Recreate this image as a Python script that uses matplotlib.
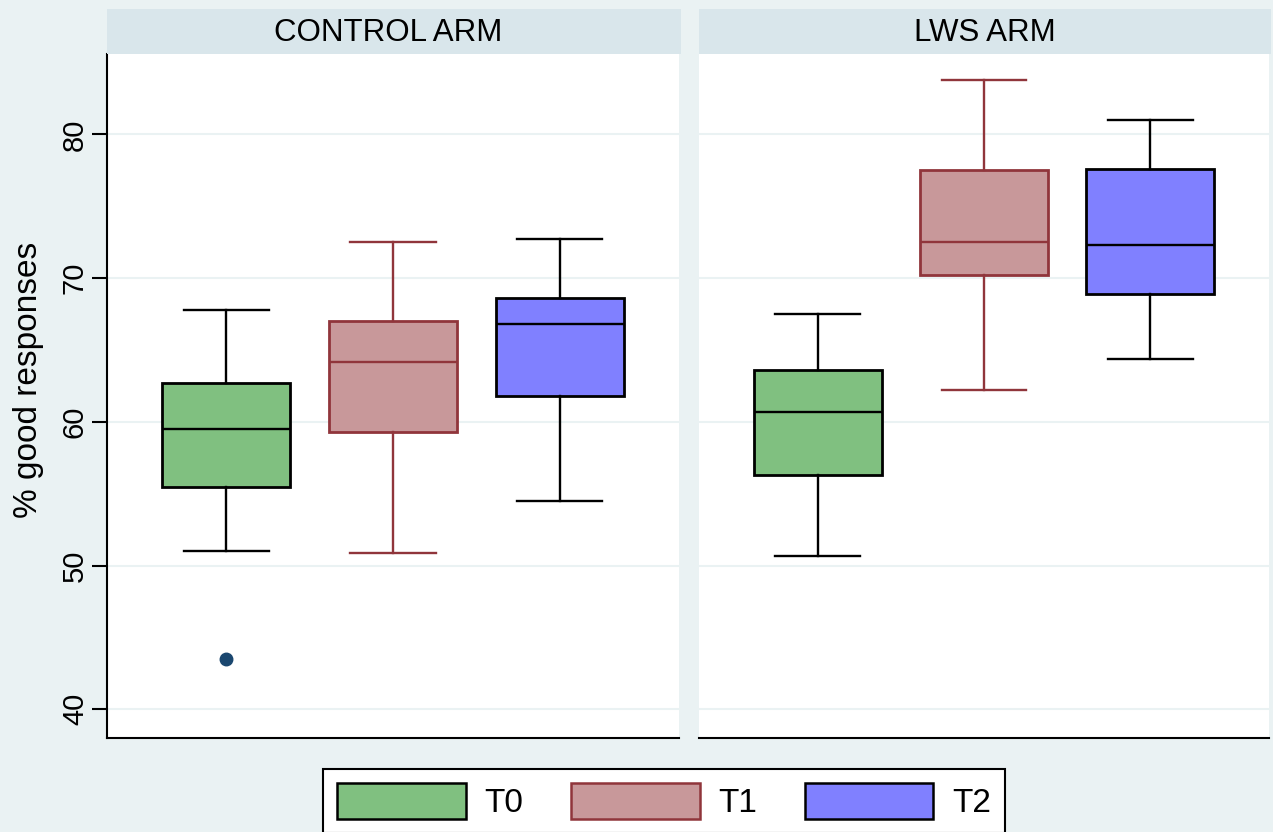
import matplotlib.pyplot as plt
from matplotlib.patches import Patch

plt.rcParams['font.family'] = ['Liberation Sans', 'DejaVu Sans']

panels = ["CONTROL ARM", "LWS ARM"]
groups = ["T0", "T1", "T2"]

# box stats, one row per panel
whislo = [[51.0, 50.9, 54.5], [50.7, 62.2, 64.4]]
q1 = [[55.5, 59.3, 61.8], [56.3, 70.2, 68.9]]
med = [[59.5, 64.2, 66.8], [60.7, 72.5, 72.3]]
q3 = [[62.7, 67.0, 68.6], [63.6, 77.5, 77.6]]
whishi = [[67.8, 72.5, 72.7], [67.5, 83.8, 81.0]]
outliers = [[[43.5], [], []], [[], [], []]]

fills = ["#80C080", "#C8989A", "#8080FF"]
edges = ["black", "#90353B", "black"]
bg = "#EAF2F3"
strip = "#D9E6EB"
grid = "#EAF2F3"

W, H = 1273, 832
fig = plt.figure(figsize=(W / 100, H / 100), dpi=100, facecolor=bg)

boxes = [(107, 679), (699, 1269)]
top, bottom = 54, 738

for p, (x0, x1) in enumerate(boxes):
    ax = fig.add_axes([x0 / W, 1 - bottom / H, (x1 - x0) / W, (bottom - top) / H])
    ax.set_facecolor("white")
    for i in range(3):
        st = dict(whislo=whislo[p][i], q1=q1[p][i], med=med[p][i], q3=q3[p][i],
                  whishi=whishi[p][i], fliers=outliers[p][i])
        ax.bxp([st], positions=[i + 1], widths=0.77, capwidths=0.51, patch_artist=True,
               boxprops=dict(facecolor=fills[i], edgecolor=edges[i], linewidth=2.0),
               whiskerprops=dict(color=edges[i], linewidth=1.7),
               capprops=dict(color=edges[i], linewidth=1.7),
               medianprops=dict(color=edges[i], linewidth=1.7),
               flierprops=dict(marker='o', markersize=9, markerfacecolor="#1A476F",
                               markeredgecolor="#1A476F"))
    ax.set_xlim(0.285, 3.715)
    ax.set_ylim(38.0, 85.6)
    ax.set_yticks([40, 50, 60, 70, 80])
    ax.set_xticks([])
    ax.grid(axis='y', color=grid, linewidth=1.5)
    ax.set_axisbelow(True)
    for s in ["top", "right"]:
        ax.spines[s].set_visible(False)
    ax.spines["bottom"].set_linewidth(1.5)
    ax.spines["left"].set_linewidth(1.5)
    if p == 0:
        ax.tick_params(axis='y', length=11, width=1.5, pad=2)
        for t in ax.get_yticklabels():
            t.set_rotation(90)
            t.set_va('center')
            t.set_family(['Liberation Sans Narrow', 'Liberation Sans'])
            t.set_fontsize(21)
        ax.set_ylabel("% good responses", fontsize=24)
        ax.yaxis.set_label_coords(-0.110, 0.524)
    else:
        ax.spines["left"].set_visible(False)
        ax.tick_params(axis='y', length=0, labelleft=False)

    sx = fig.add_axes([x0 / W, 1 - top / H, (x1 - x0 + 2) / W, (top - 9) / H])
    sx.set_facecolor(strip)
    sx.set_xticks([])
    sx.set_yticks([])
    for s in sx.spines.values():
        s.set_visible(False)
    sx.text(0.49 if p == 0 else 0.5, 0.47, panels[p], ha='center', va='center',
            fontsize=22.5, transform=sx.transAxes)

handles = [Patch(facecolor=fills[i], edgecolor=edges[i], linewidth=1.8) for i in range(3)]
leg = fig.legend(handles, groups, loc='upper center', bbox_to_anchor=(664 / W, 1 - 769 / H),
                 ncol=3, fontsize=24, frameon=True, fancybox=False, edgecolor='black',
                 handlelength=3.85, handleheight=1.3, handletextpad=0.55,
                 columnspacing=1.45, borderpad=0.42, borderaxespad=0)
leg.get_frame().set_linewidth(1.5)
leg.get_frame().set_alpha(None)
leg.get_frame().set_facecolor("white")

fig.savefig("out.png", dpi=100, facecolor=bg)
